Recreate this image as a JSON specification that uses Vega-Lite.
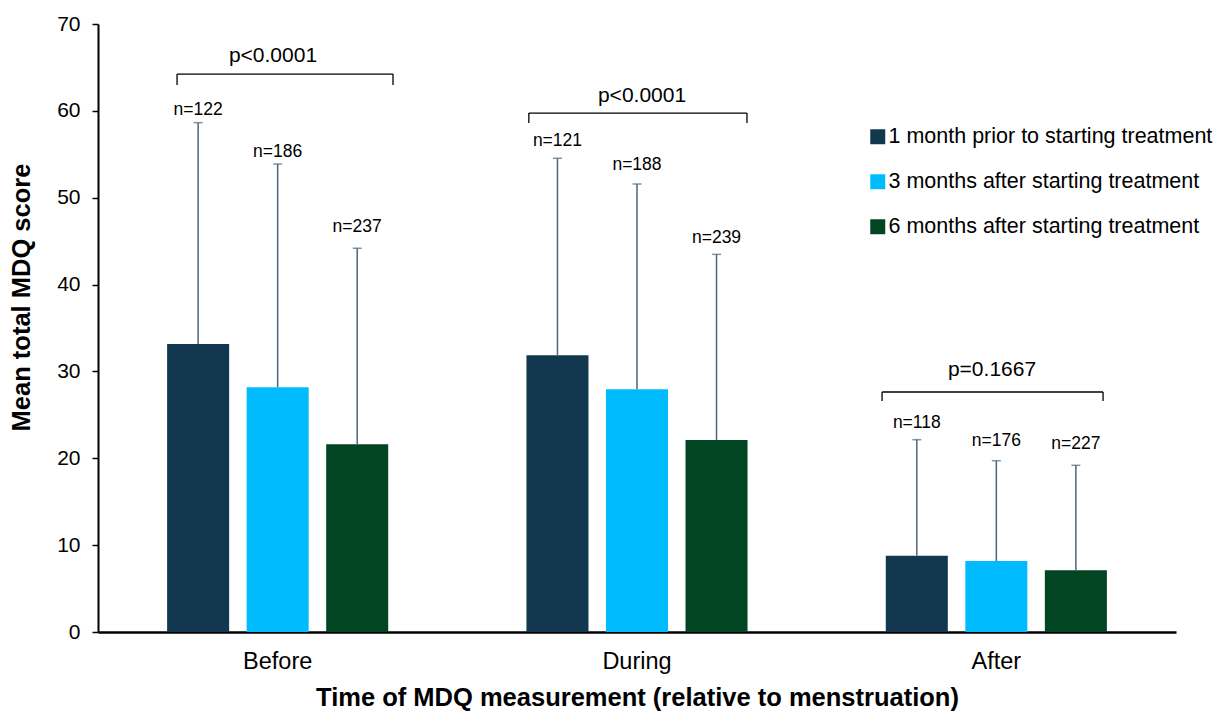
{
  "$schema": "https://vega.github.io/schema/vega-lite/v6.json",
  "width": 1078,
  "height": 608,
  "padding": {"left": 98, "top": 24, "right": 45, "bottom": 80},
  "autosize": {"type": "none"},
  "background": "white",
  "config": {
    "view": {"stroke": null},
    "font": "Liberation Sans",
    "text": {"font": "Liberation Sans"}
  },
  "datasets": {
    "bars": [
      {"time": "Before", "series": "1 month prior to starting treatment", "mean": 33.16, "upper": 58.64, "ny": 59.52, "n": "n=122"},
      {"time": "Before", "series": "3 months after starting treatment", "mean": 28.17, "upper": 53.88, "ny": 54.69, "n": "n=186"},
      {"time": "Before", "series": "6 months after starting treatment", "mean": 21.61, "upper": 44.17, "ny": 46.09, "n": "n=237"},
      {"time": "During", "series": "1 month prior to starting treatment", "mean": 31.86, "upper": 54.54, "ny": 55.95, "n": "n=121"},
      {"time": "During", "series": "3 months after starting treatment", "mean": 27.94, "upper": 51.58, "ny": 53.19, "n": "n=188"},
      {"time": "During", "series": "6 months after starting treatment", "mean": 22.1, "upper": 43.48, "ny": 44.82, "n": "n=239"},
      {"time": "After", "series": "1 month prior to starting treatment", "mean": 8.78, "upper": 22.14, "ny": 23.45, "n": "n=118"},
      {"time": "After", "series": "3 months after starting treatment", "mean": 8.17, "upper": 19.72, "ny": 21.41, "n": "n=176"},
      {"time": "After", "series": "6 months after starting treatment", "mean": 7.1, "upper": 19.19, "ny": 21.03, "n": "n=227"}
    ],
    "brackets": [
      {"time": "Before", "x1": 0.22, "x2": 0.821, "xm": 0.487, "y": 64.24, "yb": 62.97, "ly": 65.62, "label": "p<0.0001"},
      {"time": "During", "x1": 1.199, "x2": 1.806, "xm": 1.514, "y": 59.75, "yb": 58.6, "ly": 61.05, "label": "p<0.0001"},
      {"time": "After", "x1": 2.182, "x2": 2.797, "xm": 2.488, "y": 27.63, "yb": 26.6, "ly": 29.47, "label": "p=0.1667"}
    ]
  },
  "layer": [
    {
      "data": {"name": "bars"},
      "encoding": {
        "x": {
          "field": "time", "type": "nominal", "sort": ["Before", "During", "After"],
          "scale": {"paddingInner": 0.336, "paddingOuter": 0.168},
          "axis": {
            "title": "Time of MDQ measurement (relative to menstruation)",
            "titleFontSize": 25.5, "titleFontWeight": "bold", "titleColor": "black", "titlePadding": 13,
            "labelFontSize": 23.5, "labelColor": "black", "labelPadding": 17, "labelAngle": 0,
            "ticks": false, "domainColor": "black", "domainWidth": 2.5
          }
        },
        "xOffset": {
          "field": "series", "type": "nominal",
          "scale": {"paddingInner": 0.22, "paddingOuter": 0.11}
        }
      },
      "layer": [
        {
          "mark": {"type": "bar"},
          "encoding": {
            "y": {
              "field": "mean", "type": "quantitative",
              "scale": {"domain": [0, 70], "nice": false},
              "axis": {
                "title": "Mean total MDQ score",
                "titleFontSize": 25.5, "titleFontWeight": "bold", "titleColor": "black",
                "titleX": -64, "titleY": 273,
                "values": [0, 10, 20, 30, 40, 50, 60, 70],
                "labelFontSize": 21, "labelColor": "black", "labelPadding": 12,
                "grid": false, "tickColor": "black", "tickSize": 6, "tickWidth": 1.5,
                "domainColor": "black", "domainWidth": 2
              }
            },
            "color": {
              "field": "series", "type": "nominal",
              "scale": {
                "domain": ["1 month prior to starting treatment", "3 months after starting treatment", "6 months after starting treatment"],
                "range": ["#12384f", "#00bcff", "#024522"]
              },
              "legend": {
                "title": null, "orient": "none", "legendX": 769, "legendY": 102,
                "symbolType": "square", "symbolSize": 225, "symbolStrokeWidth": 0,
                "labelFontSize": 21.5, "labelColor": "black", "labelOffset": 0,
                "rowPadding": 22, "labelLimit": 400
              }
            }
          }
        },
        {
          "mark": {"type": "rule", "color": "#4a667c", "strokeWidth": 1.5},
          "encoding": {
            "y": {"field": "mean", "type": "quantitative"},
            "y2": {"field": "upper"}
          }
        },
        {
          "mark": {"type": "tick", "color": "#4a667c", "thickness": 1.5, "size": 9, "orient": "horizontal"},
          "encoding": {
            "y": {"field": "upper", "type": "quantitative"}
          }
        },
        {
          "mark": {"type": "text", "fontSize": 17.5, "color": "black", "baseline": "alphabetic"},
          "encoding": {
            "y": {"field": "ny", "type": "quantitative"},
            "text": {"field": "n"}
          }
        }
      ]
    },
    {
      "data": {"name": "brackets"},
      "encoding": {
        "x": {"field": "x1", "type": "quantitative", "scale": {"domain": [0, 3], "nice": false, "zero": false}, "axis": null}
      },
      "layer": [
        {
          "mark": {"type": "rule", "color": "black", "strokeWidth": 1.3},
          "encoding": {
            "x2": {"field": "x2"},
            "y": {"field": "y", "type": "quantitative"}
          }
        },
        {
          "mark": {"type": "rule", "color": "black", "strokeWidth": 1.3},
          "encoding": {
            "y": {"field": "y", "type": "quantitative"},
            "y2": {"field": "yb"}
          }
        },
        {
          "mark": {"type": "rule", "color": "black", "strokeWidth": 1.3},
          "encoding": {
            "x": {"field": "x2", "type": "quantitative", "scale": {"domain": [0, 3], "nice": false, "zero": false}, "axis": null},
            "y": {"field": "y", "type": "quantitative"},
            "y2": {"field": "yb"}
          }
        },
        {
          "mark": {"type": "text", "fontSize": 21, "color": "black", "baseline": "alphabetic"},
          "encoding": {
            "x": {"field": "xm", "type": "quantitative", "scale": {"domain": [0, 3], "nice": false, "zero": false}, "axis": null},
            "y": {"field": "ly", "type": "quantitative"},
            "text": {"field": "label"}
          }
        }
      ]
    }
  ],
  "resolve": {"scale": {"x": "independent"}}
}
